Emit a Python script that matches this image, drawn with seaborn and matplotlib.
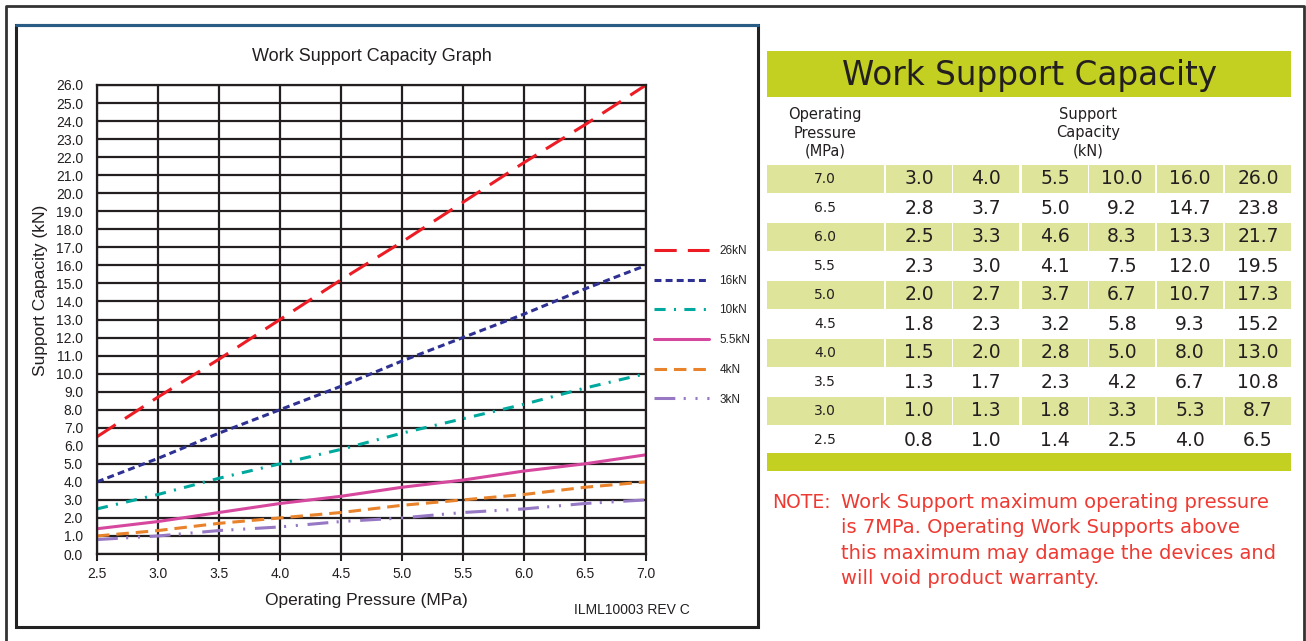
import matplotlib
matplotlib.use('Agg')
import matplotlib.pyplot as plt
import seaborn as sns
import pandas as pd
from matplotlib.patches import Rectangle

# table data, rows top to bottom (7.0 MPa down to 2.5 MPa)
pressure = [7.0, 6.5, 6.0, 5.5, 5.0, 4.5, 4.0, 3.5, 3.0, 2.5]
cap_3 = [3.0, 2.8, 2.5, 2.3, 2.0, 1.8, 1.5, 1.3, 1.0, 0.8]
cap_4 = [4.0, 3.7, 3.3, 3.0, 2.7, 2.3, 2.0, 1.7, 1.3, 1.0]
cap_5_5 = [5.5, 5.0, 4.6, 4.1, 3.7, 3.2, 2.8, 2.3, 1.8, 1.4]
cap_10 = [10.0, 9.2, 8.3, 7.5, 6.7, 5.8, 5.0, 4.2, 3.3, 2.5]
cap_16 = [16.0, 14.7, 13.3, 12.0, 10.7, 9.3, 8.0, 6.7, 5.3, 4.0]
cap_26 = [26.0, 23.8, 21.7, 19.5, 17.3, 15.2, 13.0, 10.8, 8.7, 6.5]

series_labels = ['26kN', '16kN', '10kN', '5.5kN', '4kN', '3kN']
series_values = [cap_26, cap_16, cap_10, cap_5_5, cap_4, cap_3]
table_columns = [cap_3, cap_4, cap_5_5, cap_10, cap_16, cap_26]

x_ticks = [2.5, 3.0, 3.5, 4.0, 4.5, 5.0, 5.5, 6.0, 6.5, 7.0]
y_ticks = list(range(0, 27))

note_lines = ['Work Support maximum operating pressure',
              'is 7MPa. Operating Work Supports above',
              'this maximum may damage the devices and',
              'will void product warranty.']

sns.set_style('white')
plt.rcParams['font.family'] = ['Liberation Sans', 'DejaVu Sans']
plt.rcParams['lines.scale_dashes'] = False

colors = ['#ed1c24', '#2e3192', '#00a99d', '#d6479e', '#e8822b', '#9678c4']
styles = [(0, (16, 8)), (0, (5, 3)), (0, (8, 6, 1.5, 6)), '-', (0, (9, 5)),
          (0, (15, 6, 1.5, 7, 1.5, 7))]

W, H = 1306, 641
fig = plt.figure(figsize=(W / 100, H / 100), dpi=100)

# page decorations and table, in pixel coordinates
bg = fig.add_axes([0, 0, 1, 1])
bg.set_xlim(0, W)
bg.set_ylim(H, 0)
bg.axis('off')

bg.plot([6, 6, 1304, 1304], [H, 6, 6, H], color='#333333', lw=2)
bg.add_patch(Rectangle((16, 25), 742, 602, fill=False, ec='#222222', lw=2.2))
bg.plot([16, 758], [25, 25], color='#2a5d86', lw=2.2)

green = '#c3d021'
light = '#dfe49b'
bg.add_patch(Rectangle((767, 51), 524, 46, color=green, lw=0))
bg.text(1029, 75, 'Work Support Capacity', ha='center', va='center',
        fontsize=23.5, color='#231f20', family='DejaVu Sans')
bg.text(825, 133, 'Operating\nPressure\n(MPa)', ha='center', va='center',
        fontsize=10.5, color='#231f20', family='DejaVu Sans', linespacing=1.25)
bg.text(1088, 133, 'Support\nCapacity\n(kN)', ha='center', va='center',
        fontsize=10.5, color='#231f20', family='DejaVu Sans', linespacing=1.25)

col_left = [886, 953, 1022, 1089, 1157, 1225]
col_w = 66
for i, p in enumerate(pressure):
    yc = 179 + 29 * i
    if i % 2 == 0:
        bg.add_patch(Rectangle((767, yc - 14), 117, 28, color=light, lw=0))
        for cl in col_left:
            bg.add_patch(Rectangle((cl, yc - 14), col_w, 28, color=light, lw=0))
    bg.text(825, yc, f'{p:.1f}', ha='center', va='center', fontsize=10,
            color='#231f20', family='DejaVu Sans')
    for cl, col in zip(col_left, table_columns):
        bg.text(cl + col_w / 2, yc, f'{col[i]:.1f}', ha='center', va='center',
                fontsize=13.5, color='#231f20', family='DejaVu Sans')
bg.add_patch(Rectangle((767, 453), 524, 18, color=green, lw=0))

red = '#ee3a32'
bg.text(772, 502, 'NOTE:', ha='left', va='center', fontsize=13.5, color=red,
        family='DejaVu Sans')
for k, line in enumerate(note_lines):
    bg.text(841, 502 + 25.6 * k, line, ha='left', va='center', fontsize=14,
            color=red, family='DejaVu Sans')

# the graph
ax = fig.add_axes([97 / W, 1 - 554 / H, (646 - 97) / W, (554 - 85) / H])
for lab, vals, c, ls in zip(series_labels, series_values, colors, styles):
    df = pd.DataFrame({'pressure': pressure, 'capacity': vals})
    sns.lineplot(x='pressure', y='capacity', data=df, ax=ax, color=c,
                 linestyle=ls, lw=2.2, label=lab)

ax.set_xlim(2.5, 7.0)
ax.set_ylim(0, 26)
ax.set_xticks(x_ticks)
ax.set_yticks(y_ticks)
ax.set_xticklabels([f'{t:.1f}' for t in x_ticks], fontsize=10, color='#231f20')
ax.set_yticklabels([f'{t:.1f}' for t in y_ticks], fontsize=10, color='#231f20')
ax.tick_params(axis='x', length=5, width=1.5, color='#231f20', direction='out', pad=4, bottom=True)
ax.tick_params(axis='y', length=0, pad=10)
ax.grid(True, color='#231f20', lw=1.6)
for s in ax.spines.values():
    s.set_color('#231f20')
    s.set_linewidth(1.6)
ax.set_xlabel('Operating Pressure (MPa)', fontsize=12.5, color='#231f20')
ax.set_ylabel('Support Capacity (kN)', fontsize=12.5, color='#231f20')
ax.xaxis.set_label_coords((366 - 97) / 549, (554 - 593) / 469)
ax.yaxis.set_label_coords((48 - 97) / 549, (554 - 290) / 469)
ax.set_title('Work Support Capacity Graph', fontsize=13, color='#231f20', pad=17)

ax.legend(loc='upper left', bbox_to_anchor=(654 / W, 1 - 245 / H),
          bbox_transform=fig.transFigure, frameon=False, fontsize=8.5,
          handlelength=4.7, handletextpad=0.85, labelspacing=1.5,
          borderpad=0, borderaxespad=0)

fig.text(632 / W, 1 - 610 / H, 'ILML10003 REV C', ha='center', va='center',
         fontsize=10, color='#231f20')

plt.savefig('out.png', dpi=100)
